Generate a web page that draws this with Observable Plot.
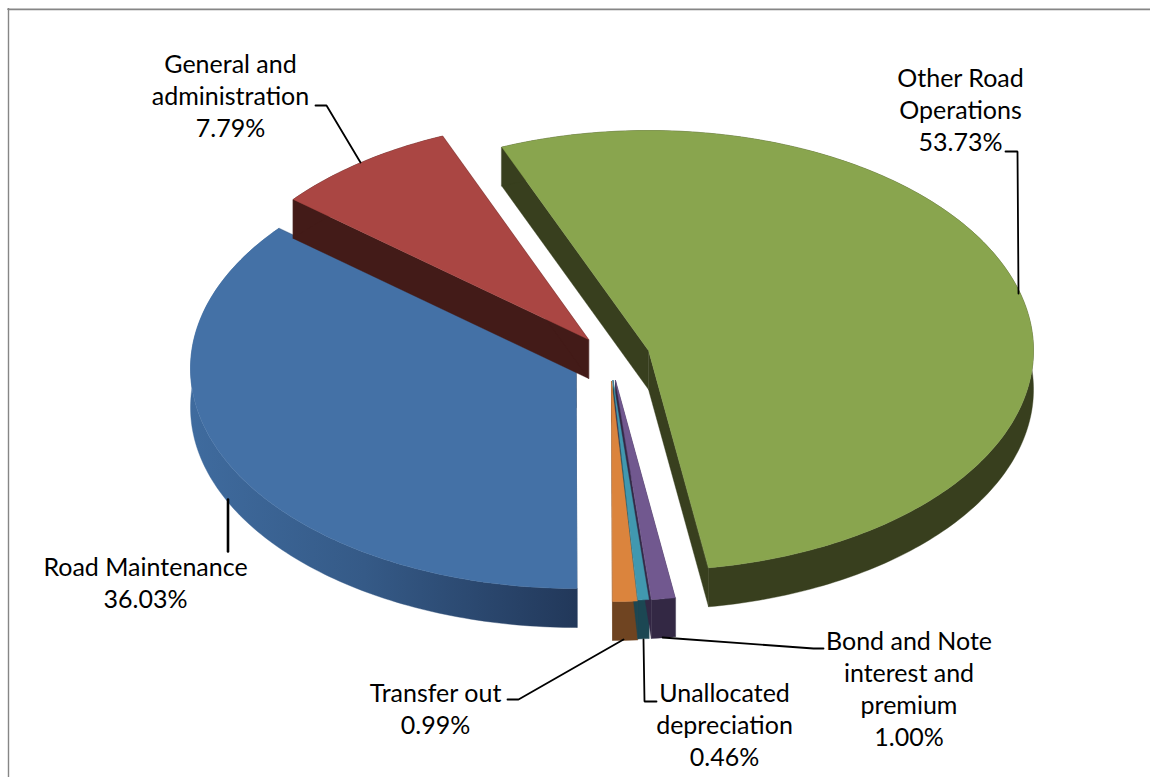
<!DOCTYPE html>
<html>
<head>
<meta charset="utf-8">
<script src="https://cdn.jsdelivr.net/npm/d3@7"></script>
<script src="https://cdn.jsdelivr.net/npm/@observablehq/plot@0.6"></script>
<style>html,body{margin:0;padding:0;background:#fff}svg{display:block}</style>
</head>
<body>
<div id="chart"></div>
<script>
// Data, in the pie's own clockwise order
const categories = ["Other Road Operations","Bond and Note interest and premium","Unallocated depreciation","Transfer out","Road Maintenance","General and administration"];
const shares = [53.73,1.00,0.46,0.99,36.03,7.79];

// Layout and style
const W = 1150, H = 777;
const startAngle = -22.4, ry = 220, depth = 39;
const geometry = {
  "Other Road Operations":{cx:648,cy:350,rx:385},
  "Bond and Note interest and premium":{cx:615,cy:380,rx:383},
  "Unallocated depreciation":{cx:612.5,cy:380,rx:383},
  "Transfer out":{cx:611,cy:381,rx:400},
  "Road Maintenance":{cx:575.5,cy:368,rx:385.5},
  "General and administration":{cx:588,cy:339,rx:383}
};
const tops = {"Other Road Operations":"#89a54e","Bond and Note interest and premium":"#71588f","Unallocated depreciation":"#4198af","Transfer out":"#db843d","Road Maintenance":"#4471a6","General and administration":"#aa4643"};
const walls = {"Other Road Operations":"#383f1e","Bond and Note interest and premium":"#332844","Unallocated depreciation":"#1c4753","Transfer out":"#6f4421","Road Maintenance":"url(#blueRim)","General and administration":"#431b18"};
// slice index and which face, back to front
const paintOrder = [[4,"side"],[4,"top"],[5,"side"],[5,"top"],[3,"side"],[2,"side"],[1,"side"],[3,"top"],[2,"top"],[1,"top"],[0,"side"],[0,"top"]];
const labelRows = [
  {text:"General and\nadministration\n7.79%",x:230,y:94.5},
  {text:"Other Road\nOperations\n53.73%",x:960,y:108.5},
  {text:"Road Maintenance\n36.03%",x:145,y:581.5},
  {text:"Transfer out\n0.99%",x:435,y:707.5},
  {text:"Unallocated\ndepreciation\n0.46%",x:724,y:723.5},
  {text:"Bond and Note\ninterest and\npremium\n1.00%",x:908.5,y:687.5}
];
const leaderRows = [
  {w:1.8,pts:[[315,105],[326,105],[360,162]]},
  {w:1.8,pts:[[1005,151],[1017,151],[1018,293]]},
  {w:2.6,pts:[[227.5,499],[227.5,551]]},
  {w:1.8,pts:[[507,699],[518,699],[623,639]]},
  {w:1.8,pts:[[643,639],[644,701],[656,701]]},
  {w:1.8,pts:[[662,637],[813,648],[823,648]]}
];

// Slices as polygons, built from the shares
let cum = 0;
const slices = categories.map((name,i)=>{
  const a0 = startAngle + cum*3.6; cum += shares[i];
  return {name, i, a0, a1: startAngle + cum*3.6};
});
const pt = (s,a,dy=0)=>{
  const g=geometry[s.name], t=a*Math.PI/180;
  return [g.cx+g.rx*Math.sin(t), g.cy-ry*Math.cos(t)+dy];
};
const polys = [];
const add = (id,color,pts)=>pts.forEach(([x,y])=>polys.push({id,color,x,y}));
paintOrder.forEach(([k,face],n)=>{
  const s = slices[k], g = geometry[s.name], c=[g.cx,g.cy];
  const steps = Math.max(2,Math.ceil(s.a1-s.a0));
  const arc = d3.range(steps+1).map(j=>s.a0+(s.a1-s.a0)*j/steps);
  if (face==="side") {
    const flat = walls[s.name].startsWith("url") ? "#22395a" : walls[s.name];
    add(`${n}a`,flat,[c,pt(s,s.a0),pt(s,s.a0,depth),[c[0],c[1]+depth]]);
    add(`${n}b`,flat,[c,pt(s,s.a1),pt(s,s.a1,depth),[c[0],c[1]+depth]]);
    add(`${n}c`,walls[s.name],[...arc.map(a=>pt(s,a)),...arc.slice().reverse().map(a=>pt(s,a,depth))]);
  } else {
    add(`${n}t`,tops[s.name],[c,...arc.map(a=>pt(s,a))]);
  }
});
const leaders = leaderRows.flatMap((l,i)=>l.pts.map(([x,y])=>({i,w:l.w,x,y})));

const gradientDefs = () => {
  const defs = d3.create("svg:defs");
  const g = defs.append("linearGradient").attr("id","blueRim")
    .attr("gradientUnits","userSpaceOnUse").attr("x1",190).attr("x2",576).attr("y1",0).attr("y2",0);
  g.append("stop").attr("offset",0).attr("stop-color","#3f6b9e");
  g.append("stop").attr("offset",0.45).attr("stop-color","#355a87");
  g.append("stop").attr("offset",1).attr("stop-color","#22385a");
  return defs.node();
};

const plot = Plot.plot({
  width:W,height:H,margin:0,
  x:{domain:[0,W],range:[0,W],axis:null},
  y:{domain:[0,H],range:[0,H],axis:null},
  color:{type:"identity"},
  style:{background:"#fff"},
  marks:[
    gradientDefs,
    Plot.ruleY([9.8],{x1:9,x2:W,stroke:"#d9d9d9",strokeWidth:1}),
    Plot.ruleY([8.7],{x1:7.3,x2:W,stroke:"#868686",strokeWidth:1.4}),
    Plot.ruleX([8],{y1:8,y2:H,stroke:"#868686",strokeWidth:1.4}),
    Plot.line(polys,{x:"x",y:"y",z:"id",fill:"color",stroke:"color",strokeWidth:0.4,curve:"linear-closed"}),
    Plot.line(leaders,{x:"x",y:"y",z:"i",stroke:"#000",strokeWidth:"w",curve:"linear",strokeLinejoin:"miter"}),
    Plot.text(labelRows,{x:"x",y:"y",text:"text",textAnchor:"middle",lineAnchor:"middle",lineHeight:1.28,fontSize:25,fontFamily:"Lato",fill:"#000"})
  ]
});
document.getElementById("chart").append(plot);
</script>
</body>
</html>
